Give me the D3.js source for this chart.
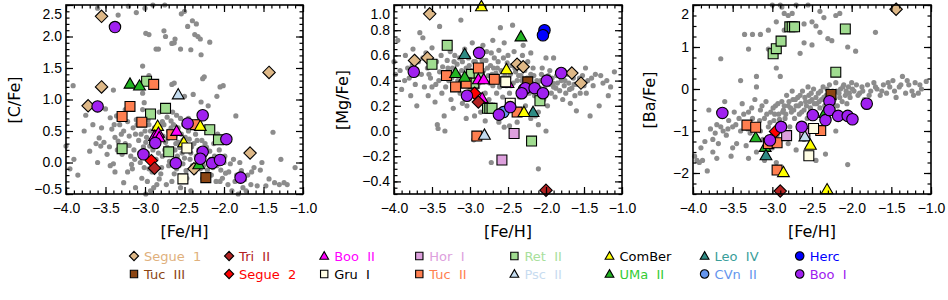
<!DOCTYPE html>
<html>
<head>
<meta charset="utf-8">
<script src="https://cdn.jsdelivr.net/npm/d3@7"></script>
<style>
  body { margin: 0; background: #fff; }
  svg { display: block; font-family: "DejaVu Sans", sans-serif; }
</style>
</head>
<body>
<div id="container"></div>
<script>
// legend order (two rows per column)
var galaxies = ["Segue 1","Tuc III","Tri II","Segue 2","Boo II","Gru I","Hor I","Tuc II",
  "Ret II","Psc II","ComBer","UMa II","Leo IV","CVn II","Herc","Boo I"];

// [C/Fe] vs [Fe/H] for the dwarf galaxy stars
var cfeStars = [
  ["Segue 1",-3.55,2.32],["Segue 1",-3.55,1.2],["Segue 1",-3.72,0.9],["Segue 1",-1.43,1.43],["Segue 1",-1.67,0.15],["Segue 1",-2.38,-0.1],
  ["Ret II",-2.98,1.29],["Ret II",-2.93,0.77],["Ret II",-2.74,0.86],["Ret II",-3.29,0.22],["Ret II",-2.70,0.17],["Ret II",-2.18,0.52],["Ret II",-2.07,0.36],
  ["Tuc II",-2.89,1.24],["Tuc II",-3.19,0.89],["Tuc II",-3.29,0.73],["Tuc II",-3.04,0.64],["Tuc II",-2.66,0.44],["Tuc II",-2.36,0.60],
  ["UMa II",-3.19,1.25],["UMa II",-3.07,1.22],["UMa II",-2.32,-0.03],
  ["Psc II",-2.58,1.08],
  ["ComBer",-2.84,0.58],["ComBer",-2.30,0.58],["ComBer",-2.51,0.32],
  ["Boo II",-2.88,0.42],["Boo II",-2.83,0.47],["Boo II",-2.82,0.40],["Boo II",-2.60,0.50],
  ["Gru I",-2.47,0.23],["Gru I",-2.52,-0.26],
  ["Segue 2",-2.92,0.03],["Tri II",-2.88,-0.09],["Tuc III",-2.23,-0.24],
  ["Boo I",-3.38,2.15],["Boo I",-3.60,0.89],["Boo I",-2.27,0.75],["Boo I",-2.46,0.62],["Boo I",-1.97,0.37],["Boo I",-2.87,0.31],
  ["Boo I",-3.02,0.13],["Boo I",-2.27,0.17],["Boo I",-2.30,0.06],["Boo I",-2.61,-0.01],["Boo I",-2.15,-0.01],["Boo I",-2.05,0.04],["Boo I",-1.79,-0.24]
];

// [Mg/Fe] vs [Fe/H]
var mgfeStars = [
  ["Segue 1",-3.53,0.93],["Segue 1",-3.73,0.56],["Segue 1",-3.56,0.58],["Segue 1",-2.38,0.53],["Segue 1",-2.30,0.51],["Segue 1",-1.66,0.46],["Segue 1",-1.54,0.38],
  ["Ret II",-3.30,0.68],["Ret II",-3.50,0.53],["Ret II",-2.98,0.45],["Ret II",-2.88,0.43],["Ret II",-2.95,0.38],["Ret II",-2.77,0.18],["Ret II",-2.74,0.18],["Ret II",-2.71,0.18],["Ret II",-2.08,0.24],["Ret II",-2.19,-0.08],
  ["Tuc II",-3.31,0.44],["Tuc II",-3.19,0.35],["Tuc II",-3.05,0.38],["Tuc II",-2.89,0.50],["Tuc II",-2.68,0.41],["Tuc II",-2.38,0.15],["Tuc II",-2.91,-0.04],
  ["UMa II",-2.33,0.75],["UMa II",-3.19,0.46],["UMa II",-3.07,0.43],
  ["Leo IV",-3.07,0.61],["Leo IV",-2.17,0.15],
  ["ComBer",-2.85,0.99],["ComBer",-2.52,0.49],["ComBer",-2.29,0.15],
  ["Boo II",-2.89,0.41],["Boo II",-2.82,0.41],["Boo II",-2.50,0.38],["Boo II",-2.84,0.26],
  ["Gru I",-2.53,0.39],["Gru I",-2.47,0.22],["Tuc III",-2.24,0.39],
  ["Hor I",-2.42,-0.02],["Hor I",-2.58,-0.23],["Psc II",-2.81,-0.03],
  ["Segue 2",-2.94,0.30],["Tri II",-2.89,0.23],["Tri II",-2.00,-0.47],
  ["CVn II",-2.56,0.15],["Herc",-2.02,0.80],["Herc",-2.04,0.76],
  ["Boo I",-3.74,0.47],["Boo I",-2.88,0.62],["Boo I",-3.04,0.28],["Boo I",-2.62,0.13],["Boo I",-2.47,0.19],["Boo I",-2.29,0.33],
  ["Boo I",-2.27,0.34],["Boo I",-2.32,0.30],["Boo I",-2.15,0.34],["Boo I",-2.04,0.30],["Boo I",-1.99,0.40],["Boo I",-1.80,0.46]
];

// [Ba/Fe] vs [Fe/H]
var bafeStars = [
  ["Segue 1",-1.44,1.9],
  ["Ret II",-2.99,0.84],["Ret II",-2.95,0.96],["Ret II",-2.89,1.14],["Ret II",-2.78,1.48],["Ret II",-2.75,1.48],["Ret II",-2.72,1.48],["Ret II",-2.08,1.43],["Ret II",-2.20,0.40],
  ["Tuc III",-2.26,-0.13],
  ["UMa II",-2.34,-0.57],["UMa II",-3.21,-1.15],["UMa II",-3.09,-1.38],["Leo IV",-3.08,-1.58],
  ["Tuc II",-3.32,-0.86],["Tuc II",-3.21,-0.91],["Tuc II",-3.05,-1.30],["Tuc II",-2.94,-1.28],["Tuc II",-2.94,-1.93],["Tuc II",-2.39,-0.99],
  ["Segue 2",-2.96,-1.01],["Hor I",-2.82,-1.11],["Hor I",-2.59,-1.06],["Psc II",-2.59,-1.13],
  ["Gru I",-2.48,-0.94],["Gru I",-2.54,-1.59],
  ["ComBer",-2.52,-1.33],["ComBer",-2.86,-1.98],["ComBer",-2.31,-2.39],["Tri II",-2.90,-2.43],
  ["Boo I",-3.63,-0.57],["Boo I",-2.89,-0.90],["Boo I",-3.03,-1.22],["Boo I",-2.63,-0.90],["Boo I",-2.49,-0.62],["Boo I",-2.33,-0.74],
  ["Boo I",-2.28,-0.29],["Boo I",-2.28,-0.50],["Boo I",-2.17,-0.64],["Boo I",-2.05,-0.64],["Boo I",-1.99,-0.72],["Boo I",-1.81,-0.35]
];

// halo comparison stars (grey)
var cfeHalo = [
  [-3.34,2.34],[-3.11,2.38],[-3.21,2.48],[-3.6,2.45],[-3.0,2.45],[-2.99,2.05],[-2.95,2.03],[-2.86,1.8],[-2.83,1.8],[-2.76,2.09],
  [-2.74,2.0],[-2.66,1.89],[-2.63,1.9],[-2.55,1.8],[-2.54,2.36],[-2.5,2.4],[-2.46,2.16],[-2.42,1.79],[-2.37,2.03],[-2.35,2.2],
  [-2.33,2.0],[-2.3,1.96],[-2.18,1.91],[-2.29,1.71],[-2.62,1.96],[-2.9,2.5],[-2.75,2.5],[-2.4,2.25],
  [-3.03,1.53],[-2.95,1.38],[-2.66,1.24],[-2.63,1.26],[-2.27,1.33],[-2.25,1.36],[-2.05,1.2],[-2.01,1.22],[-2.09,1.05],[-2.29,0.96],
  [-2.39,1.08],[-1.85,0.74],[-3.91,1.22],[-3.03,1.1],[-3.01,0.95],[-3.03,0.84],[-1.38,0.48],[-1.1,-0.08],[-3.4,1.15],[-3.1,1.2],
  [-2.5,1.05],[-2.2,0.9],
  [-4.0,0.26],[-3.9,0.05],[-3.77,0.5],[-3.7,0.18],[-3.66,0.6],[-3.58,0.39],[-3.56,0.26],[-3.52,0.32],[-3.44,0.71],[-3.42,0.53],
  [-3.39,0.6],[-3.38,0.4],[-3.36,0.74],[-3.34,0.34],[-3.29,0.13],[-3.25,0.84],[-3.27,0.5],[-3.48,0.13],[-3.44,-0.05],[-3.4,-0.02],
  [-3.27,-0.32],[-3.2,0.27],[-3.18,0.1],[-3.17,-0.03],[-3.14,0.2],[-3.12,0.45],[-3.11,0.68],[-3.85,-0.2],[-3.95,-0.1],[-3.6,0.0],
  [-3.75,0.75],[-3.5,0.85],
  [-3.0,0.5],[-2.96,0.68],[-2.94,0.26],[-3.0,0.1],[-2.95,-0.1],[-2.91,-0.15],[-2.93,-0.45],[-2.89,-0.4],[-2.82,-0.26],[-2.8,-0.18],
  [-2.78,0.1],[-2.74,0.32],[-2.72,0.24],[-2.7,0.5],[-2.67,0.66],[-2.64,0.6],[-2.62,0.42],[-2.58,0.32],[-2.56,0.24],[-2.54,0.45],
  [-2.52,-0.02],[-2.5,0.07],[-2.48,-0.13],[-2.46,0.27],[-2.44,0.37],[-2.35,0.1],[-2.33,-0.01],[-2.3,-0.1],[-2.26,-0.05],[-2.22,0.24],
  [-2.18,0.18],[-2.14,-0.08],[-2.08,0.45],[-2.04,-0.12],[-1.98,-0.17],[-1.92,-0.02],[-1.88,0.05],[-1.84,-0.2],[-1.78,-0.13],[-1.74,-0.27],
  [-1.7,-0.2],[-1.66,-0.35],[-1.62,-0.08],[-1.58,-0.37],[-1.54,-0.12],[-1.52,0.0],[-1.47,-0.37],[-1.43,-0.26],[-1.36,-0.32],[-1.3,-0.35],
  [-1.28,0.05],[-1.2,-0.35],[-1.24,-0.32],
  [-2.85,0.35],[-2.88,0.55],[-2.9,0.2],[-2.86,0.05],[-2.84,0.45],[-2.8,0.38],[-2.76,0.6],[-2.72,0.72],[-2.68,0.15],[-2.65,0.0],
  [-2.6,-0.1],[-2.58,0.55],[-2.55,0.7],[-2.52,0.35],[-2.45,0.5],[-2.42,0.15],[-2.4,-0.05],[-2.38,0.3],[-2.36,0.45],[-2.32,0.2],
  [-2.28,0.35],[-2.25,0.1],[-2.2,0.0],[-2.16,-0.2],[-2.12,0.1],[-2.1,-0.3],[-2.06,0.2],[-2.02,-0.25],[-2.0,0.0],[-1.95,-0.35],
  [-1.9,-0.45],[-1.82,-0.5],[-1.76,-0.4],[-3.08,0.35],[-3.06,0.0],[-3.04,-0.25],[-3.02,0.25],[-2.98,0.4],[-2.97,-0.3],[-2.99,-0.5],
  [-2.9,0.75],[-2.82,0.8],[-2.78,0.65],[-2.74,0.85],[-2.6,0.75],[-2.7,-0.05],[-2.73,-0.35],[-2.66,-0.3],[-2.62,0.2],[-3.22,-0.15],
  [-3.3,0.45],[-3.15,0.55],[-3.22,0.65],[-3.35,0.2],
  [-3.25,0.3],[-3.2,0.42],[-3.16,-0.1],[-3.13,0.05],[-3.1,0.6],[-3.07,0.15],[-3.05,0.45],[-3.01,-0.08],[-2.99,0.32],[-2.97,0.15],
  [-2.93,0.5],[-2.92,0.05],[-2.88,-0.05],[-2.87,0.28],[-2.83,0.15],[-2.81,0.58],[-2.79,-0.08],[-2.77,0.42],[-2.75,0.2],[-2.71,0.38],
  [-2.69,0.02],[-2.67,0.55],[-2.63,-0.18],[-2.61,0.3],[-2.59,0.1],[-2.57,-0.05],[-2.53,0.15],[-2.51,0.6],[-2.49,0.4],[-2.47,-0.25],
  [-2.43,0.05],[-2.41,0.25],[-2.37,-0.15],[-2.34,0.35],[-2.31,0.12],[-2.27,-0.25],[-2.24,0.3],[-2.21,-0.12],[-2.17,0.05],[-2.13,0.3],
  [-2.09,-0.05],[-2.05,-0.3],[-1.99,0.1],[-1.94,-0.15],[-1.86,-0.3],[-1.8,0.0],[-1.72,-0.45],[-1.65,-0.15],[-3.45,0.25],[-3.55,0.55],
  [-3.62,0.3],[-3.32,0.6],[-3.38,-0.15],[-3.12,-0.4],[-2.85,-0.35],[-2.55,-0.4],[-2.42,-0.45],[-2.95,0.6],[-2.65,0.8],[-2.45,0.7],
  [-2.35,0.65],[-2.15,0.55]
];

var mgfeHalo = [
  [-4.0,0.55],[-3.98,0.45],[-3.95,0.72],[-3.9,0.33],[-3.85,0.6],[-3.82,0.5],[-3.8,0.42],[-3.78,0.28],[-3.75,0.65],[-3.72,0.37],
  [-3.7,0.2],[-3.68,0.55],[-3.66,0.78],[-3.64,0.45],[-3.62,0.74],[-3.6,0.35],[-3.58,0.62],[-3.56,0.5],[-3.55,0.28],[-3.52,0.42],
  [-3.5,0.66],[-3.48,0.55],[-3.46,0.23],[-3.45,0.37],[-3.43,0.05],[-3.42,0.02],[-3.4,0.83],[-3.4,0.47],[-3.38,0.6],[-3.37,0.3],
  [-3.36,0.51],[-3.34,0.12],[-3.33,0.0],[-3.3,0.56],[-3.28,0.4],[-3.26,0.63],[-3.25,0.25],[-3.23,0.5],[-3.22,0.18],[-3.2,0.6],
  [-3.18,0.35],[-3.17,0.53],[-3.15,0.45],[-3.13,0.3],[-3.12,0.88],[-3.1,0.55],[-3.08,0.4],[-3.07,0.65],[-3.05,0.5],[-3.04,0.2],
  [-3.02,0.58],[-3.0,0.33],[-2.99,0.48],[-2.97,0.7],[-2.95,0.55],[-2.94,0.12],[-2.92,0.44],[-2.9,0.35],[-2.89,0.6],[-2.87,0.52],
  [-2.86,0.15],[-2.85,0.4],[-2.83,0.68],[-2.82,0.48],[-2.8,0.3],[-2.79,0.56],[-2.78,0.63],[-2.76,0.44],[-2.75,0.25],[-2.73,0.52],
  [-2.72,0.62],[-2.7,0.36],[-2.69,0.5],[-2.68,0.58],[-2.66,0.46],[-2.65,0.3],[-2.63,0.55],[-2.62,0.64],[-2.6,0.4],[-2.59,0.48],
  [-2.57,0.27],[-2.56,0.58],[-2.55,0.7],[-2.54,0.44],[-2.52,0.36],[-2.51,0.54],[-2.5,0.6],[-2.48,0.3],[-2.47,0.45],[-2.45,0.52],
  [-2.44,0.84],[-2.43,0.38],[-2.42,0.63],[-2.4,0.47],[-2.38,0.4],[-2.37,0.55],[-2.35,0.27],[-2.34,0.5],[-2.33,0.44],[-2.31,0.6],
  [-2.3,0.36],[-2.28,0.48],[-2.27,0.2],[-2.25,0.42],[-2.24,0.55],[-2.22,0.3],[-2.2,0.45],[-2.19,0.38],[-2.17,0.5],[-2.15,0.28],
  [-2.14,0.12],[-2.12,0.4],[-2.1,0.05],[-2.08,0.34],[-2.06,0.45],[-2.05,0.5],[-2.03,0.25],[-2.02,0.33],[-2.0,0.42],[-1.98,0.2],
  [-1.96,0.37],[-1.95,0.48],[-1.93,0.3],[-1.92,0.42],[-1.9,0.35],[-1.88,0.27],[-1.86,0.44],[-1.85,0.38],[-1.82,0.32],[-1.8,0.4],
  [-1.78,0.25],[-1.76,0.36],[-1.74,0.3],[-1.72,0.45],[-1.7,0.38],[-1.68,0.22],[-1.66,0.34],[-1.64,0.42],[-1.62,0.28],[-1.6,0.16],
  [-1.58,0.37],[-1.55,0.3],[-1.52,0.44],[-1.5,0.36],[-1.48,0.5],[-1.45,0.4],[-1.42,0.12],[-1.4,0.42],[-1.35,0.45],[-1.3,0.2],
  [-1.25,0.38],[-1.18,0.28],[-1.1,0.47],
  [-2.95,-0.07],[-2.72,-0.25],[-2.62,0.07],[-2.55,0.03],[-2.38,0.07],[-2.1,-0.3],[-2.1,0.15],[-2.0,0.0],[-2.2,0.1],[-3.05,0.1],
  [-2.8,0.08],[-2.48,0.04],[-2.6,0.82],[-2.7,0.72],[-2.3,0.68],[-2.2,0.62],[-2.0,0.58],[-1.9,0.58],
  [-3.92,0.48],[-3.86,0.4],[-3.76,0.52],[-3.7,0.45],[-3.62,0.58],[-3.54,0.45],[-3.5,0.35],[-3.44,0.55],[-3.41,0.4],[-3.35,0.43],
  [-3.32,0.35],[-3.29,0.5],[-3.24,0.42],[-3.21,0.55],[-3.16,0.4],[-3.14,0.58],[-3.11,0.48],[-3.06,0.44],[-3.03,0.36],[-3.01,0.52],
  [-2.98,0.4],[-2.96,0.3],[-2.93,0.55],[-2.91,0.48],[-2.88,0.38],[-2.84,0.56],[-2.81,0.42],[-2.77,0.5],[-2.74,0.38],[-2.71,0.45],
  [-2.67,0.4],[-2.64,0.5],[-2.61,0.35],[-2.58,0.42],[-2.53,0.48],[-2.49,0.42],[-2.46,0.36],[-2.41,0.5],[-2.36,0.44],[-2.32,0.4],
  [-2.29,0.52],[-2.26,0.35],[-2.21,0.4],[-2.16,0.44],[-2.11,0.38],[-2.07,0.4],[-2.01,0.36],[-1.97,0.44],[-1.91,0.38],[-1.87,0.34],
  [-1.81,0.44],[-1.75,0.4],[-1.69,0.33],[-1.63,0.37],[-1.56,0.42],[-1.47,0.3],[-1.38,0.36],[-1.28,0.44],[-1.2,0.4],[-1.15,0.35],
  [-2.9,0.25],[-2.7,0.2],[-2.5,0.22],[-3.1,0.22],[-2.35,0.15]
];

var bafeHalo = [
  [-3.35,1.3],[-3.25,1.3],[-3.15,1.3],[-3.05,1.4],[-2.95,1.6],[-2.9,2.0],[-2.88,1.95],[-2.85,1.8],[-2.8,1.75],[-2.75,1.8],
  [-2.7,2.0],[-2.6,1.55],[-2.5,1.6],[-2.45,1.5],[-2.4,1.35],[-2.35,1.7],[-2.3,1.2],[-2.25,1.15],[-2.2,1.75],[-2.15,1.8],
  [-2.05,1.0],[-1.95,0.9],[-1.7,1.35],[-2.9,1.2],[-2.85,1.4],[-2.8,1.5],[-3.3,0.95],[-3.05,0.95],[-2.6,1.1],[-2.5,1.05],
  [-2.65,0.85],[-2.4,1.85],[-3.0,2.0],[-2.55,2.0],[-3.65,0.72],[-2.9,0.3],[-2.95,0.5],[-3.2,0.3],[-3.4,0.2],[-3.2,0.05],
  [-3.8,-0.5],[-3.6,-0.3],
  [-3.98,-1.6],[-3.95,-1.7],[-3.92,-1.75],[-3.88,-1.7],[-3.85,-1.25],[-3.82,-1.95],[-3.78,-0.95],[-3.75,-1.5],[-3.72,-1.05],[-3.7,-0.85],
  [-3.68,-1.3],[-3.65,-0.9],[-3.6,-0.6],[-3.58,-1.1],[-3.55,-0.75],[-3.52,-1.6],[-3.5,-0.9],[-3.48,-0.55],[-3.45,-1.3],[-3.42,-0.7],
  [-3.4,-1.0],[-3.38,-0.35],[-3.35,-0.8],[-3.33,-1.35],[-3.3,-0.55],[-3.28,-1.05],[-3.25,-0.7],[-3.22,-0.25],[-3.2,-1.5],[-3.18,-0.85],
  [-3.15,-0.5],[-3.12,-1.2],[-3.1,-0.7],[-3.08,-0.3],[-3.05,-0.9],[-3.02,-0.55],[-3.0,-1.4],[-2.98,-0.75],[-2.96,-0.4],[-2.94,-1.1],
  [-2.92,-0.6],[-2.9,-0.85],[-2.88,-0.3],[-2.86,-0.5],[-2.84,-0.7],[-2.82,-0.15],[-2.8,-0.4],[-2.78,-0.9],[-2.76,-0.55],[-2.74,-0.25],
  [-2.72,-0.7],[-2.7,-0.4],[-2.68,-0.2],[-2.66,-0.6],[-2.64,-0.35],[-2.62,-0.05],[-2.6,-0.5],[-2.58,-0.3],[-2.56,-0.7],[-2.54,-0.15],
  [-2.52,-0.45],[-2.5,-0.25],[-2.48,0.0],[-2.46,-0.6],[-2.44,-0.35],[-2.42,-0.1],[-2.4,-0.45],[-2.38,-0.25],[-2.36,0.05],[-2.34,-0.4],
  [-2.32,-0.15],[-2.3,-0.3],[-2.28,0.1],[-2.26,-0.5],[-2.24,-0.05],[-2.22,-0.25],[-2.2,0.15],[-2.18,-0.4],[-2.16,-0.1],[-2.14,0.0],
  [-2.12,-0.3],[-2.1,0.1],[-2.08,-0.15],[-2.06,-0.35],[-2.04,0.05],[-2.02,-0.2],[-2.0,0.15],[-1.97,-0.05],[-1.94,0.1],[-1.9,-0.1],
  [-1.87,0.05],[-1.84,-0.25],[-1.8,0.1],[-1.76,-0.05],[-1.72,0.15],[-1.68,0.0],[-1.64,-0.15],[-1.6,0.1],[-1.56,-0.1],[-1.52,0.05],
  [-1.48,0.2],[-1.44,-0.2],[-1.4,0.05],[-1.36,0.3],[-1.32,-0.1],[-1.28,0.1],[-1.24,-0.05],[-1.2,0.15],[-1.16,-0.1],[-1.12,0.0],
  [-1.06,0.18],
  [-3.3,-1.65],[-3.1,-1.7],[-2.95,-1.75],[-2.7,-1.45],[-2.45,-1.7],[-2.33,-1.55],[-2.2,-1.0],[-2.05,-1.8],[-2.6,-1.2],[-2.8,-1.3],
  [-3.5,-1.4],[-3.7,-1.65],
  [-3.9,-1.4],[-3.75,-1.2],[-3.62,-1.0],[-3.56,-0.95],[-3.46,-0.85],[-3.36,-0.6],[-3.31,-0.95],[-3.26,-0.45],[-3.23,-0.85],[-3.16,-0.75],
  [-3.13,-0.4],[-3.07,-0.6],[-3.03,-0.8],[-2.99,-0.45],[-2.97,-0.6],[-2.93,-0.35],[-2.91,-0.72],[-2.87,-0.55],[-2.85,-0.4],[-2.83,-0.6],
  [-2.79,-0.3],[-2.77,-0.45],[-2.73,-0.5],[-2.71,-0.25],[-2.67,-0.4],[-2.65,-0.15],[-2.63,-0.55],[-2.59,-0.2],[-2.57,-0.4],[-2.53,-0.3],
  [-2.51,-0.1],[-2.47,-0.35],[-2.45,-0.2],[-2.41,-0.3],[-2.39,-0.05],[-2.35,-0.2],[-2.31,0.0],[-2.27,-0.15],[-2.23,-0.35],[-2.19,-0.05],
  [-2.15,-0.2],[-2.11,0.05],[-2.07,-0.05],[-2.03,-0.1],[-1.99,0.0],[-1.92,-0.15],[-1.86,-0.05],[-1.78,-0.15],[-1.7,0.05],[-1.62,-0.05],
  [-1.54,0.15],[-1.46,-0.05],[-1.38,0.1],[-1.3,0.2],[-1.22,-0.15],[-1.14,0.1],[-3.0,-1.1],[-3.15,-1.0],[-2.75,-0.05],[-2.55,0.05]
];

var xTicks = [-4.0,-3.5,-3.0,-2.5,-2.0,-1.5,-1.0];
var cfeTicks = [-0.5,0.0,0.5,1.0,1.5,2.0,2.5];
var mgfeTicks = [-0.4,-0.2,0.0,0.2,0.4,0.6,0.8,1.0];
var bafeTicks = [-2,-1,0,1,2];

// marker look per galaxy
var look = {
  "Segue 1": {shape:"diamond", fill:"#deb887", text:"#e0b07c"},
  "Tuc III": {shape:"square", fill:"#8b4513", text:"#8b4513"},
  "Tri II":  {shape:"diamond", fill:"#b22222", text:"#b22222"},
  "Segue 2": {shape:"diamond", fill:"#ff0000", text:"#ff0000"},
  "Boo II":  {shape:"triangle", fill:"#ff00ff", text:"#ff00ff"},
  "Gru I":   {shape:"square", fill:"#fffde4", text:"#000000"},
  "Hor I":   {shape:"square", fill:"#dda0dd", text:"#dda0dd"},
  "Tuc II":  {shape:"square", fill:"#ff7f50", text:"#ff7f50"},
  "Ret II":  {shape:"square", fill:"#a0dc90", text:"#a8e09c"},
  "Psc II":  {shape:"triangle", fill:"#c4dcf0", text:"#c8dcf0"},
  "ComBer":  {shape:"triangle", fill:"#ffff00", text:"#000000"},
  "UMa II":  {shape:"triangle", fill:"#22b422", text:"#33cc33"},
  "Leo IV":  {shape:"triangle", fill:"#2e8b84", text:"#3a9e9a"},
  "CVn II":  {shape:"circle", fill:"#6495ed", text:"#6495ed"},
  "Herc":    {shape:"circle", fill:"#0000ff", text:"#0000ff"},
  "Boo I":   {shape:"circle", fill:"#a020f0", text:"#a020f0"}
};

function markerPath(shape, s) {
  if (shape == "diamond") return "M0," + (-s) + "L" + s + ",0L0," + s + "L" + (-s) + ",0Z";
  if (shape == "square") { var h = s * 0.8; return "M" + (-h) + "," + (-h) + "H" + h + "V" + h + "H" + (-h) + "Z"; }
  if (shape == "triangle") { var t = s * 0.95; return "M0," + (-t) + "L" + t + "," + (t * 0.75) + "L" + (-t) + "," + (t * 0.75) + "Z"; }
  return d3.symbol().type(d3.symbolCircle).size(Math.PI * s * s * 0.85)();
}

var W = 948, H = 300;
var svg = d3.select("#container").append("svg").attr("width", W).attr("height", H);

function drawPanel(p) {
  var x = d3.scaleLinear().domain([-4, -1]).range([p.left, p.right]);
  var y = d3.scaleLinear().domain(p.ydom).range([194, 5]);
  var g = svg.append("g");

  // grey halo stars
  g.selectAll("circle.halo").data(p.halo).enter().append("circle")
    .attr("class", "halo")
    .attr("cx", function(d) { return x(d[0]); })
    .attr("cy", function(d) { return y(d[1]); })
    .attr("r", 2.6)
    .attr("fill", "#8c8c8c");

  // dwarf galaxy stars
  g.selectAll("path.star").data(p.stars).enter().append("path")
    .attr("class", "star")
    .attr("transform", function(d) { return "translate(" + x(d[1]) + "," + y(d[2]) + ")"; })
    .attr("d", function(d) { return markerPath(look[d[0]].shape, 6.2); })
    .attr("fill", function(d) { return look[d[0]].fill; })
    .attr("stroke", "#000")
    .attr("stroke-width", 1.1);

  // frame
  g.append("rect").attr("x", p.left).attr("y", 5)
    .attr("width", p.right - p.left).attr("height", 189)
    .attr("fill", "none").attr("stroke", "#000").attr("stroke-width", 1.6);

  var xMinor = d3.range(-4, -0.99, 0.1);
  var yMinor = d3.range(p.ydom[0], p.ydom[1] + 1e-6, p.minor);

  function ticks(axis, transform) {
    var a = g.append("g").attr("transform", transform).call(axis);
    a.select(".domain").remove();
    a.selectAll("line").attr("stroke", "#000").attr("stroke-width", 1.2);
    a.selectAll("text").attr("font-size", "14px").attr("fill", "#000");
    return a;
  }
  var fx = d3.format(".1f");
  ticks(d3.axisBottom(x).tickValues(xTicks).tickSize(-7).tickPadding(9).tickFormat(fx), "translate(0,194)");
  ticks(d3.axisBottom(x).tickValues(xMinor).tickSize(-3.5).tickFormat(""), "translate(0,194)");
  ticks(d3.axisTop(x).tickValues(xTicks).tickSize(-7).tickFormat(""), "translate(0,5)");
  ticks(d3.axisTop(x).tickValues(xMinor).tickSize(-3.5).tickFormat(""), "translate(0,5)");
  var ya = ticks(d3.axisLeft(y).tickValues(p.yticks).tickSize(-7).tickPadding(4).tickFormat(p.yfmt), "translate(" + p.left + ",0)");
  ya.selectAll("text").attr("dy", function(d) {
    if (d == p.ydom[1]) return "0.95em";
    if (d == p.ydom[0]) return "-0.05em";
    return "0.32em";
  });
  ticks(d3.axisLeft(y).tickValues(yMinor).tickSize(-3.5).tickFormat(""), "translate(" + p.left + ",0)");
  ticks(d3.axisRight(y).tickValues(p.yticks).tickSize(-7).tickFormat(""), "translate(" + p.right + ",0)");
  ticks(d3.axisRight(y).tickValues(yMinor).tickSize(-3.5).tickFormat(""), "translate(" + p.right + ",0)");

  // axis titles
  g.append("text").attr("x", (p.left + p.right) / 2).attr("y", 237)
    .attr("text-anchor", "middle").attr("font-size", "16px").text("[Fe/H]");
  g.append("text").attr("transform", "translate(" + p.ylabX + ",100) rotate(-90)")
    .attr("text-anchor", "middle").attr("font-size", "16px").text(p.ylabel);
}

drawPanel({left: 66, right: 303, ydom: [-0.5, 2.5], yticks: cfeTicks, minor: 0.1,
  yfmt: d3.format(".1f"), halo: cfeHalo, stars: cfeStars, ylabel: "[C/Fe]", ylabX: 20});
drawPanel({left: 394, right: 622, ydom: [-0.5, 1.0], yticks: mgfeTicks, minor: 0.05,
  yfmt: d3.format(".1f"), halo: mgfeHalo, stars: mgfeStars, ylabel: "[Mg/Fe]", ylabX: 348});
drawPanel({left: 693, right: 931, ydom: [-2.5, 2.0], yticks: bafeTicks, minor: 0.25,
  yfmt: d3.format("d"), halo: bafeHalo, stars: bafeStars, ylabel: "[Ba/Fe]", ylabX: 655});

// legend
var leg = svg.append("g").selectAll("g").data(galaxies).enter().append("g")
  .attr("transform", function(d, i) {
    return "translate(" + (134 + Math.floor(i / 2) * 95.1) + "," + (256 + (i % 2) * 18) + ")";
  });
leg.append("path")
  .attr("d", function(d) { return markerPath(look[d].shape, 4.6); })
  .attr("fill", function(d) { return look[d].fill; })
  .attr("stroke", "#000").attr("stroke-width", 1.1);
leg.append("text").attr("x", 10).attr("dy", "0.35em").attr("font-size", "13px")
  .attr("fill", function(d) { return look[d].text; })
  .attr("style", "white-space:pre")
  .text(function(d) { return d.replace(" ", "  "); });
</script>
</body>
</html>
